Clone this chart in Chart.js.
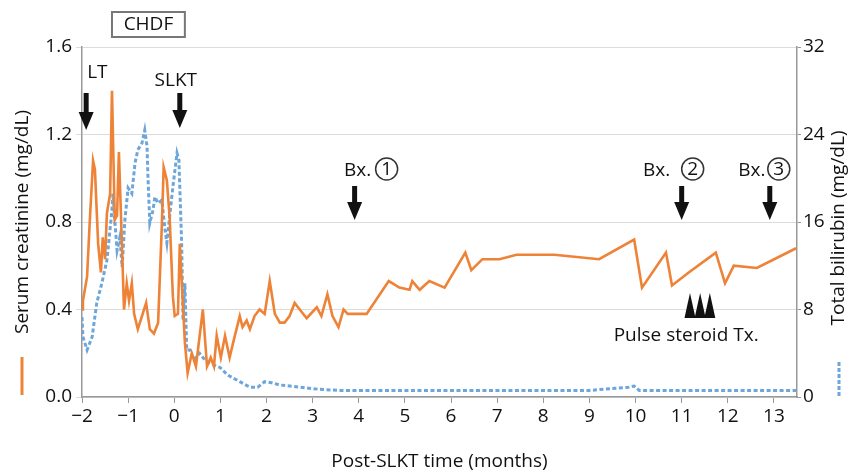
<!DOCTYPE html>
<html>
<head>
<meta charset="utf-8">
<script src="https://cdn.jsdelivr.net/npm/chart.js@4.4.1/dist/chart.umd.min.js"></script>
<style>
body { margin: 0; background: #fff; }
</style>
</head>
<body>
<canvas id="graph" width="850" height="473"></canvas>
<script>
// 血清クレアチニン (mg/dL) 左軸
const creatMonths = [-2.00,-1.98,-1.89,-1.83,-1.76,-1.72,-1.65,-1.59,-1.55,-1.50,-1.46,-1.39,-1.35,-1.29,-1.24,-1.20,-1.13,-1.09,-1.03,-0.98,
  -0.92,-0.87,-0.79,-0.70,-0.61,-0.53,-0.44,-0.35,-0.27,-0.23,-0.16,-0.10,-0.03,0.01,0.08,0.12,0.23,0.29,0.38,0.47,
  0.62,0.71,0.79,0.86,0.92,1.01,1.10,1.20,1.29,1.42,1.48,1.57,1.64,1.74,1.85,1.96,2.07,2.18,2.29,2.39,
  2.50,2.61,2.72,2.87,3.09,3.19,3.32,3.43,3.56,3.67,3.76,4.17,4.65,4.88,5.10,5.16,5.32,5.53,5.86,6.31,
  6.44,6.68,7.05,7.42,8.24,9.21,9.97,10.14,10.66,10.79,11.16,11.74,11.94,12.13,12.63,13.48];
const creatValues = [0.40,0.44,0.55,0.81,1.08,1.04,0.70,0.57,0.73,0.63,0.84,0.93,1.40,0.81,0.83,1.12,0.67,0.40,0.52,0.44,
  0.52,0.38,0.31,0.37,0.43,0.31,0.29,0.34,0.78,1.05,0.99,0.82,0.46,0.37,0.38,0.70,0.25,0.11,0.20,0.14,
  0.40,0.14,0.18,0.14,0.28,0.18,0.28,0.18,0.26,0.37,0.32,0.35,0.31,0.37,0.40,0.38,0.53,0.38,0.34,0.34,
  0.37,0.43,0.40,0.36,0.41,0.37,0.47,0.37,0.32,0.40,0.38,0.38,0.53,0.50,0.49,0.53,0.49,0.53,0.50,0.66,
  0.58,0.63,0.63,0.65,0.65,0.63,0.72,0.50,0.66,0.51,0.57,0.66,0.52,0.60,0.59,0.68];

// 総ビリルビン (mg/dL) 右軸
const biliMonths = [-2.00,-1.98,-1.89,-1.78,-1.68,-1.57,-1.46,-1.35,-1.33,-1.29,-1.24,-1.18,-1.13,-1.07,-1.00,-0.92,-0.85,-0.79,-0.70,-0.64,
  -0.59,-0.57,-0.53,-0.46,-0.42,-0.35,-0.27,-0.20,-0.16,-0.10,-0.03,0.06,0.10,0.16,0.19,0.23,0.27,0.34,0.42,0.55,
  0.66,0.77,0.88,0.99,1.16,1.42,1.64,1.81,1.96,2.11,2.29,2.50,2.72,3.15,3.58,5.00,7.00,9.00,9.86,9.97,
  10.08,11.38,13.48];
const biliValues = [7.3,5.5,4.3,5.5,8.6,10.4,12.5,17.1,18.6,16.2,13.4,14.6,11.9,16.2,19.1,18.6,21.4,22.6,23.2,24.4,
  22.9,20.1,15.9,17.1,18.3,17.7,18.0,15.3,14.1,16.5,19.2,22.3,21.7,14.1,7.0,10.4,4.3,4.3,3.4,4.0,
  3.4,3.1,2.9,2.7,2.0,1.4,0.9,0.9,1.4,1.3,1.1,1.0,0.9,0.7,0.6,0.6,0.6,0.6,0.9,1.0,
  0.6,0.6,0.6];

// イベント (月)
const eventLabels = ['LT', 'SLKT', 'Bx.', 'Bx.', 'Bx.'];
const eventMonths = [-1.91, 0.12, 3.91, 11.0, 12.91];
const pulseMonths = [11.18, 11.40, 11.61];
const chdfRange = [-1.35, 0.23];

const FONT = '"Open Sans", "Noto Sans", sans-serif';
Chart.defaults.font.family = FONT;
Chart.defaults.font.size = 19;
Chart.defaults.color = '#111';

const ORANGE = '#EE8236';
const BLUE = '#6CA6DA';

const toPoints = (xs, ys) => xs.map((m, i) => ({ x: m, y: ys[i] }));

//矢印
function drawArrow(ctx, cx, top, tip) {
  ctx.fillStyle = '#111';
  ctx.fillRect(cx - 2.5, top, 5, tip - top - 16);
  ctx.beginPath();
  ctx.moveTo(cx - 7.5, tip - 18);
  ctx.lineTo(cx + 7.5, tip - 18);
  ctx.lineTo(cx, tip);
  ctx.closePath();
  ctx.fill();
}

function circled(ctx, cx, cy, txt) {
  ctx.beginPath();
  ctx.arc(cx, cy, 11, 0, Math.PI * 2);
  ctx.lineWidth = 1.5;
  ctx.strokeStyle = '#333';
  ctx.stroke();
  ctx.fillStyle = '#111';
  ctx.textAlign = 'center';
  ctx.fillText(txt, cx, cy + 1);
}

const annotPlugin = {
  id: 'annot',
  afterDraw(chart) {
    const ctx = chart.ctx;
    const px = m => chart.scales.x.getPixelForValue(m);
    ctx.save();
    ctx.font = '19px ' + FONT;
    ctx.textBaseline = 'middle';

    // CHDF 枠
    const bx0 = px(chdfRange[0]), bx1 = px(chdfRange[1]);
    ctx.fillStyle = '#fff';
    ctx.fillRect(bx0, 12, bx1 - bx0, 25);
    ctx.strokeStyle = '#777';
    ctx.lineWidth = 2;
    ctx.strokeRect(bx0, 12, bx1 - bx0, 25);
    ctx.fillStyle = '#111';
    ctx.textAlign = 'center';
    ctx.fillText('CHDF', (bx0 + bx1) / 2, 25);

    // LT / SLKT
    drawArrow(ctx, px(eventMonths[0]), 93, 130);
    ctx.fillStyle = '#111';
    ctx.textAlign = 'left';
    ctx.fillText(eventLabels[0], px(eventMonths[0]) + 1, 73);
    drawArrow(ctx, px(eventMonths[1]), 93, 128);
    ctx.fillStyle = '#111';
    ctx.textAlign = 'center';
    ctx.fillText(eventLabels[1], px(eventMonths[1]) - 4, 81);

    // 生検
    const circ = ['1', '2', '3'];
    const textOff = [3, -25, -18];
    const circOff = [32, 11, 9];
    for (let i = 2; i < 5; i++) {
      const cx = px(eventMonths[i]);
      drawArrow(ctx, cx, 186, 220);
      ctx.fillStyle = '#111';
      ctx.textAlign = 'center';
      ctx.fillText(eventLabels[i], cx + textOff[i - 2], 171);
      circled(ctx, cx + circOff[i - 2], 169, circ[i - 2]);
    }

    // パルスステロイド
    ctx.fillStyle = '#111';
    for (const m of pulseMonths) {
      const cx = px(m);
      ctx.beginPath();
      ctx.moveTo(cx - 5.5, 318);
      ctx.lineTo(cx + 5.5, 318);
      ctx.lineTo(cx, 293);
      ctx.closePath();
      ctx.fill();
    }
    ctx.textAlign = 'center';
    ctx.fillText('Pulse steroid Tx.', px(pulseMonths[1]) - 14, 336);

    // 右軸タイトル
    ctx.save();
    ctx.translate(839, 228);
    ctx.rotate(-Math.PI / 2);
    ctx.textAlign = 'center';
    ctx.fillText('Total bilirubin (mg/dL)', 0, 0);
    ctx.restore();

    // 凡例キー
    ctx.lineWidth = 3;
    ctx.strokeStyle = ORANGE;
    ctx.beginPath();
    ctx.moveTo(22, 357); ctx.lineTo(22, 395);
    ctx.stroke();
    ctx.strokeStyle = BLUE;
    ctx.setLineDash([4, 2]);
    ctx.beginPath();
    ctx.moveTo(839, 362); ctx.lineTo(839, 398);
    ctx.stroke();
    ctx.restore();
  }
};

new Chart(document.getElementById('graph'), {
  type: 'line',
  data: {
    datasets: [
      {
        label: 'Serum creatinine',
        data: toPoints(creatMonths, creatValues),
        borderColor: ORANGE,
        borderWidth: 2.6,
        pointRadius: 0,
        tension: 0,
        yAxisID: 'y'
      },
      {
        label: 'Total bilirubin',
        data: toPoints(biliMonths, biliValues),
        borderColor: BLUE,
        borderWidth: 3,
        borderDash: [4, 2.5],
        pointRadius: 0,
        tension: 0,
        yAxisID: 'y2'
      }
    ]
  },
  options: {
    responsive: false,
    animation: false,
    layout: { padding: { top: 47, left: 0, right: 0, bottom: 0 } },
    plugins: { legend: { display: false }, tooltip: { enabled: false } },
    scales: {
      x: {
        type: 'linear',
        min: -2,
        max: 13.5,
        afterFit(scale) { scale.height = 76; },
        ticks: {
          stepSize: 1,
          includeBounds: false,
          padding: 2,
          maxRotation: 0,
          callback: v => (v < 0 ? '\u2212' + Math.abs(v) : String(v))
        },
        grid: { drawOnChartArea: false, drawTicks: true, tickLength: 6, color: '#999' },
        border: { color: '#999', width: 1.5 },
        title: { display: true, text: 'Post-SLKT time (months)', padding: { top: 0, bottom: 0 } }
      },
      y: {
        position: 'left',
        min: 0,
        max: 1.6,
        afterFit(scale) { scale.width = 82; },
        ticks: { stepSize: 0.4, padding: 4, callback: v => v.toFixed(1) },
        grid: { color: '#dcdcdc', tickLength: 6 },
        border: { color: '#999', width: 1.5 },
        title: { display: true, text: 'Serum creatinine (mg/dL)', padding: { top: 11, bottom: 0 } }
      },
      y2: {
        position: 'right',
        min: 0,
        max: 32,
        afterFit(scale) { scale.width = 53; },
        ticks: { stepSize: 8, padding: 2 },
        grid: { drawOnChartArea: false, tickLength: 4, color: '#999' },
        border: { color: '#999', width: 1.5 }
      }
    }
  },
  plugins: [annotPlugin]
});
</script>
</body>
</html>
